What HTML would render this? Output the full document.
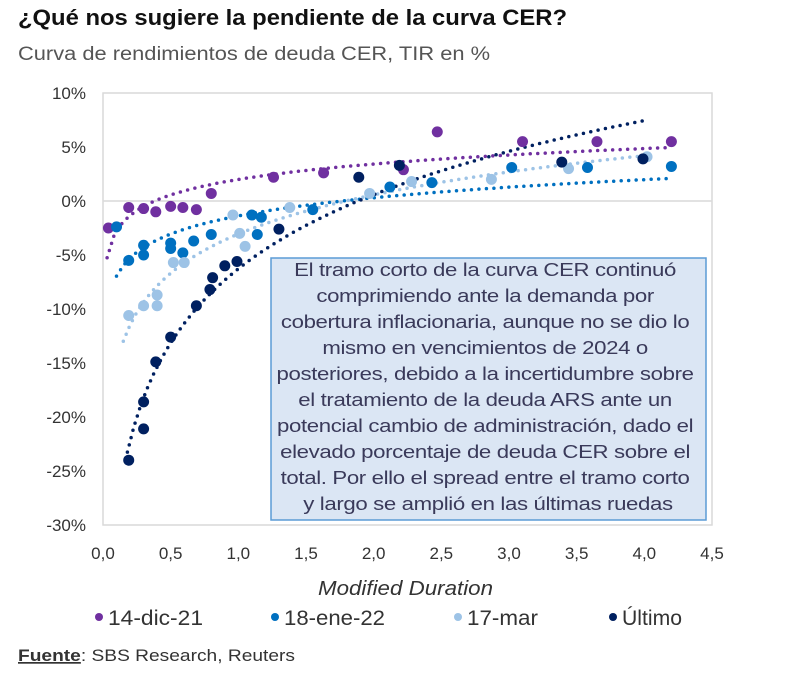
<!DOCTYPE html>
<html><head><meta charset="utf-8"><style>
body{margin:0;background:#fff;width:800px;height:672px;overflow:hidden;font-family:"Liberation Sans",sans-serif}
svg text{font-family:"Liberation Sans",sans-serif}
</style></head><body>
<svg id="chart" width="800" height="672">
<text x="18" y="25" font-size="22" font-weight="bold" fill="#111" textLength="549" lengthAdjust="spacingAndGlyphs">¿Qué nos sugiere la pendiente de la curva CER?</text>
<text x="18" y="60" font-size="19" fill="#555" textLength="472" lengthAdjust="spacingAndGlyphs">Curva de rendimientos de deuda CER, TIR en %</text>
<rect x="103" y="93" width="609" height="432" fill="none" stroke="#d9d9d9" stroke-width="1.5"/>
<g id="axes"></g>
<g id="marks"></g>
<rect x="271" y="258" width="435" height="262" fill="#dbe6f4" stroke="#5b9bd5" stroke-width="1.5"/>
<g transform="translate(488,0) scale(1.2,1) translate(-488,0)">
<text font-size="18.5" fill="#3a3a5a" text-anchor="middle" letter-spacing="-0.3">
<tspan x="488" y="276">El tramo corto de la curva CER continuó</tspan>
<tspan x="488" y="302">comprimiendo ante la demanda por</tspan>
<tspan x="488" y="328">cobertura inflacionaria, aunque no se dio lo</tspan>
<tspan x="488" y="354">mismo en vencimientos de 2024 o</tspan>
<tspan x="488" y="380">posteriores, debido a la incertidumbre sobre</tspan>
<tspan x="488" y="406">el tratamiento de la deuda ARS ante un</tspan>
<tspan x="488" y="432">potencial cambio de administración, dado el</tspan>
<tspan x="488" y="458">elevado porcentaje de deuda CER sobre el</tspan>
<tspan x="488" y="484">total. Por ello el spread entre el tramo corto</tspan>
<tspan x="488" y="510">y largo se amplió en las últimas ruedas</tspan>
</text>
</g>
<text x="318" y="595" font-size="20" font-style="italic" fill="#333" textLength="175" lengthAdjust="spacingAndGlyphs">Modified Duration</text>
<g id="legend"></g>
<text x="18" y="661" font-size="17" fill="#333" textLength="277" lengthAdjust="spacingAndGlyphs"><tspan font-weight="bold" text-decoration="underline">Fuente</tspan>: SBS Research, Reuters</text>
</svg>
<script>
const xTicks=[0,0.5,1,1.5,2,2.5,3,3.5,4,4.5];
const xTickLabels=["0,0","0,5","1,0","1,5","2,0","2,5","3,0","3,5","4,0","4,5"];
const yTicks=[10,5,0,-5,-10,-15,-20,-25,-30];
const yTickLabels=["10%","5%","0%","-5%","-10%","-15%","-20%","-25%","-30%"];
const seriesNames=["14-dic-21","18-ene-22","17-mar","Último"];
const decX=[0.04,0.19,0.3,0.39,0.5,0.59,0.69,0.8,1.26,1.63,2.22,2.47,3.1,3.65,4.2];
const decY=[-2.5,-0.6,-0.7,-1.0,-0.5,-0.6,-0.8,0.7,2.2,2.6,2.9,6.4,5.5,5.5,5.5];
const eneX=[0.1,0.19,0.3,0.3,0.5,0.5,0.59,0.67,0.8,1.14,1.1,1.17,1.55,2.12,2.43,3.02,3.58,4.2];
const eneY=[-2.4,-5.5,-4.1,-5.0,-3.9,-4.4,-4.8,-3.7,-3.1,-3.1,-1.3,-1.5,-0.8,1.3,1.7,3.1,3.1,3.2];
const marX=[0.19,0.3,0.4,0.4,0.52,0.6,1.01,1.05,0.96,1.38,1.97,2.28,2.87,3.44,4.02];
const marY=[-10.6,-9.7,-9.7,-8.7,-5.7,-5.7,-3.0,-4.2,-1.3,-0.6,0.7,1.8,2.0,3.0,4.1];
const ultX=[0.19,0.3,0.3,0.39,0.5,0.69,0.79,0.81,0.9,0.99,1.3,1.89,2.19,3.39,3.99];
const ultY=[-24.0,-21.1,-18.6,-14.9,-12.6,-9.7,-8.2,-7.1,-6.0,-5.6,-2.6,2.2,3.3,3.6,3.9];
const trendFrom=[0.03,0.1,0.15,0.18];
const trendTo=[4.2,4.2,4.0,4.0];
const colors=["#7030a0","#0070c0","#9dc3e6","#002060"];
const X=v=>103+v*609/4.5, Y=v=>201-v*10.8;
const NS="http://www.w3.org/2000/svg";
function mk(tag,attrs,parent){const e=document.createElementNS(NS,tag);for(const k in attrs)e.setAttribute(k,attrs[k]);parent.appendChild(e);return e;}
const axes=document.getElementById('axes'),marks=document.getElementById('marks'),legend=document.getElementById('legend');
const zl=mk('line',{x1:103,x2:712,y1:Y(0),y2:Y(0),stroke:'#d9d9d9','stroke-width':1.5},axes);


yTicks.forEach((t,i)=>{const e=mk('text',{x:86,y:Y(t)+6,'font-size':17,fill:'#333','text-anchor':'end'},axes);e.textContent=yTickLabels[i];

});
xTicks.forEach((t,i)=>{const e=mk('text',{x:X(t),y:559,'font-size':17,fill:'#333','text-anchor':'middle'},axes);e.textContent=xTickLabels[i];

});
const xs=[decX,eneX,marX,ultX],ys=[decY,eneY,marY,ultY];
for(let s=0;s<4;s++){
 const n=xs[s].length;let sl=0,sy=0,sll=0,sly=0;
 for(let i=0;i<n;i++){const l=Math.log(xs[s][i]);sl+=l;sy+=ys[s][i];sll+=l*l;sly+=l*ys[s][i];}
 const a=(n*sly-sl*sy)/(n*sll-sl*sl),b=(sy-a*sl)/n;
 let d='';for(let k=0;k<=80;k++){const x=trendFrom[s]+(trendTo[s]-trendFrom[s])*k/80;const y=Math.max(-30,a*Math.log(x)+b);d+=(k?'L':'M')+X(x).toFixed(1)+','+Y(y).toFixed(1);}
 const p=mk('path',{d:d,fill:'none',stroke:colors[s],'stroke-width':3.5,'stroke-dasharray':'0 7.5','stroke-linecap':'round'},marks);
 
 
}
for(let s=0;s<4;s++){for(let i=0;i<xs[s].length;i++){
 const c=mk('circle',{cx:X(xs[s][i]),cy:Y(ys[s][i]),r:5.5,fill:colors[s]},marks);
 
 
}}
const lx=[108,284,467,622];
const lw=[95,101,71,60];
for(let s=0;s<4;s++){
 const c=mk('circle',{cx:lx[s]-9,cy:617,r:4,fill:colors[s]},legend);
 
 
 const t=mk('text',{x:lx[s],y:625,'font-size':21,fill:'#333',textLength:lw[s],lengthAdjust:'spacingAndGlyphs'},legend);t.textContent=seriesNames[s];
 
 
}
</script>
</body></html>
